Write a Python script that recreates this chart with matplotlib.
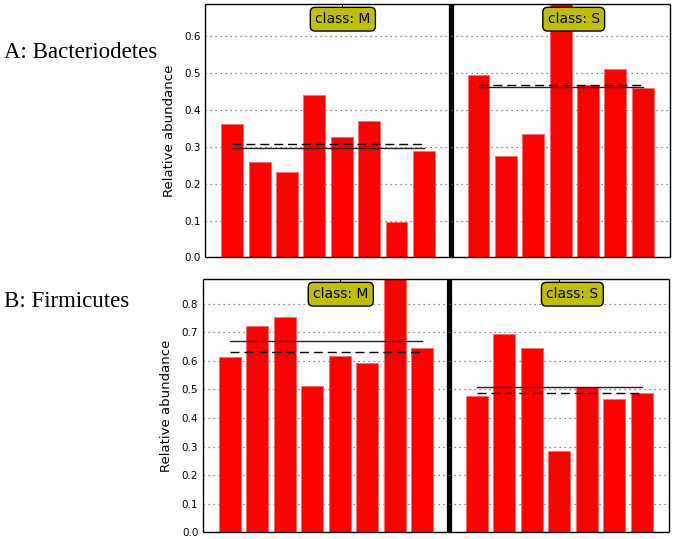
import numpy as np
from matplotlib import pyplot as plt

#Relative abundance per sample
bact_M = [0.362, 0.258, 0.232, 0.441, 0.326, 0.370, 0.096, 0.289]
bact_S = [0.495, 0.274, 0.334, 0.686, 0.466, 0.511, 0.458]
firm_M = [0.612, 0.723, 0.754, 0.512, 0.618, 0.592, 0.886, 0.645]
firm_S = [0.477, 0.692, 0.644, 0.285, 0.507, 0.466, 0.489]

row_titles = ['A: Bacteriodetes', 'B: Firmicutes']
class_names = ['M', 'S']
rows = [(bact_M, bact_S), (firm_M, firm_S)]
yticks = [np.arange(0, 0.61, 0.1), np.arange(0, 0.81, 0.1)]

fig = plt.figure(figsize=(6.75, 5.39), dpi=100)

#axes boxes in figure fractions [left, right, bottom, top]
row_boxes = [(0.3037, 0.9926, 0.5223, 0.9926), (0.3000, 0.9911, 0.0121, 0.4824)]
row_text_y = [0.903, 0.440]

for r, (data_M, data_S) in enumerate(rows):
    left, right, bottom, top = row_boxes[r]
    n_M, n_S = len(data_M), len(data_S)
    total = (n_M + 1) + (n_S + 1)
    split = left + (right - left) * (n_M + 1) / total
    ax1 = fig.add_axes([left, bottom, split - left, top - bottom])
    ax2 = fig.add_axes([split, bottom, right - split, top - bottom])
    ax2.set_facecolor('none')
    ymax = max(max(data_M), max(data_S))

    for ax, vals, cname in [(ax1, data_M, class_names[0]), (ax2, data_S, class_names[1])]:
        vals = np.array(vals)
        x = np.arange(len(vals))
        ax.bar(x, vals, width=0.8, color='red', edgecolor='#ff6a6a', linewidth=0.6, zorder=2)
        #mean (solid) and median (dashed)
        ax.plot([x[0], x[-1]], [vals.mean()] * 2, color='#222222', linewidth=1.0, zorder=3)
        ax.plot([x[0], x[-1]], [np.median(vals)] * 2, color='black', linewidth=1.0,
                dashes=(6.5, 3.5), zorder=3)
        ax.set_xlim(-1, len(vals))
        ax.set_ylim(0, ymax)
        ax.set_yticks(yticks[r])
        ax.yaxis.grid(True, linestyle=(0, (1, 3)), color='0.4', linewidth=0.9, zorder=0)
        ax.set_axisbelow(True)
        ax.set_xticks([len(vals) // 2])
        ax.set_xticklabels([])
        ax.tick_params(axis='x', direction='in', top=True, bottom=True, length=4, width=0.8)
        ax.tick_params(axis='y', direction='in', length=0, labelsize=7.5, pad=3)
        for s in ax.spines.values():
            s.set_linewidth(1.0)
            s.set_capstyle('butt')
        ax.text(0.56, 0.94, 'class: ' + cname, transform=ax.transAxes, ha='center', va='center',
                fontsize=10, zorder=5,
                bbox=dict(boxstyle='round,pad=0.35', facecolor='#bfbf00', edgecolor='black', linewidth=1.0))

    ax2.set_yticklabels([])
    ax1.spines['right'].set_linewidth(3.8)
    ax1.spines['right'].set_zorder(6)
    ax2.spines['left'].set_visible(False)
    ax1.set_ylabel('Relative abundance', fontsize=9.5, labelpad=6)

    fig.text(0.006, row_text_y[r], row_titles[r], fontsize=16.5, family='Liberation Serif',
             ha='left', va='center')

plt.savefig('out.png', dpi=100)
